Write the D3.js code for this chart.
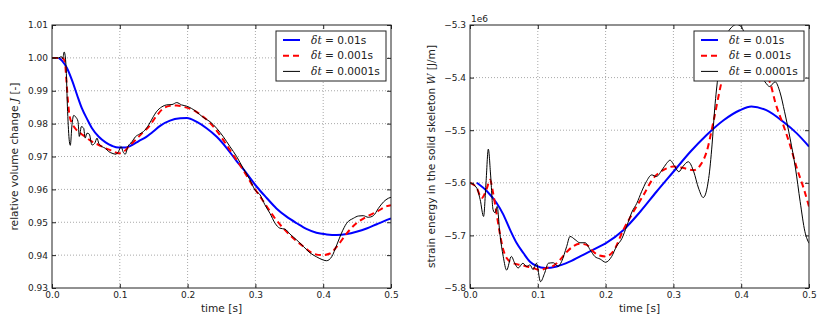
<!DOCTYPE html>
<html lang="en">
<head>
<meta charset="UTF-8">
<title>Volume change and strain energy</title>
<script src="https://d3js.org/d3.v7.min.js"></script>
<style>
  body { margin: 0; background: #fff; }
  text { font-family: "DejaVu Sans", sans-serif; fill: #222; }
  .tick text { font-size: 9px; fill: #222; }
  .tick line { stroke: #222; }
  .grid line { stroke: #a8a8a8; stroke-dasharray: 1,2; }
  .math { font-family: "DejaVu Serif", serif; font-style: italic; }
</style>
</head>
<body>
<svg id="chart" width="822" height="323"></svg>
<script>
// tick values
const timeTicks = [0, 0.1, 0.2, 0.3, 0.4, 0.5];
const volumeTicks = [0.93, 0.94, 0.95, 0.96, 0.97, 0.98, 0.99, 1.00, 1.01];
const energyTicks = [-5.8, -5.7, -5.6, -5.5, -5.4, -5.3];
const stepLabels = ["0.01s", "0.001s", "0.0001s"];

// relative volume change J, [time, value]
const volumeCoarse = [[0.01,1.0],[0.015,0.9991],[0.022,0.9969],[0.03,0.9929],[0.037,0.9887],[0.044,0.9847],[0.052,0.9813],[0.059,0.9786],[0.069,0.976],[0.079,0.9743],[0.089,0.9732],[0.098,0.9727],[0.108,0.9727],[0.118,0.9735],[0.128,0.9747],[0.138,0.9758],[0.148,0.9774],[0.16,0.9794],[0.174,0.9809],[0.189,0.9816],[0.199,0.9817],[0.213,0.9806],[0.228,0.9786],[0.243,0.976],[0.258,0.9725],[0.272,0.9687],[0.287,0.9649],[0.302,0.9608],[0.317,0.9573],[0.331,0.9542],[0.346,0.9517],[0.361,0.9497],[0.376,0.9479],[0.39,0.9468],[0.405,0.9463],[0.42,0.9461],[0.435,0.9464],[0.449,0.9471],[0.464,0.9481],[0.479,0.9494],[0.494,0.9507],[0.5,0.9512]];
const volumeMedium = [[0,1.0],[0.015,1.0],[0.019,0.9989],[0.021,0.9938],[0.0236,0.9867],[0.026,0.9822],[0.0295,0.9801],[0.034,0.9786],[0.042,0.9771],[0.049,0.976],[0.059,0.9745],[0.069,0.9735],[0.079,0.9725],[0.089,0.9717],[0.098,0.971],[0.106,0.9715],[0.113,0.973],[0.123,0.975],[0.133,0.9771],[0.143,0.9791],[0.153,0.982],[0.164,0.9846],[0.174,0.9854],[0.184,0.9855],[0.194,0.9851],[0.2085,0.9841],[0.223,0.9821],[0.238,0.9791],[0.2527,0.975],[0.2675,0.9704],[0.282,0.9659],[0.297,0.9608],[0.312,0.9563],[0.327,0.9517],[0.341,0.9482],[0.356,0.9451],[0.371,0.9426],[0.385,0.9405],[0.398,0.94],[0.41,0.9405],[0.422,0.9431],[0.435,0.9467],[0.449,0.9497],[0.464,0.9517],[0.479,0.9532],[0.494,0.9549],[0.5,0.9552]];
const volumeFine = [[0,1.0],[0.01,1.0],[0.0138,1.0004],[0.0157,0.9997],[0.018,1.0018],[0.0206,0.9979],[0.023,0.9837],[0.0256,0.9746],[0.027,0.9734],[0.0295,0.9797],[0.032,0.9825],[0.0354,0.9819],[0.0383,0.9807],[0.0403,0.9761],[0.0433,0.9791],[0.0467,0.9786],[0.049,0.9756],[0.0516,0.9771],[0.055,0.9768],[0.059,0.9735],[0.063,0.974],[0.0664,0.9756],[0.069,0.974],[0.0737,0.973],[0.0787,0.9725],[0.0836,0.9715],[0.0885,0.971],[0.0944,0.9707],[0.098,0.9715],[0.102,0.973],[0.1047,0.9715],[0.108,0.9707],[0.112,0.973],[0.118,0.9745],[0.123,0.976],[0.129,0.9768],[0.135,0.9776],[0.1426,0.9796],[0.1494,0.9821],[0.154,0.9836],[0.162,0.9851],[0.169,0.9857],[0.177,0.9858],[0.184,0.9864],[0.191,0.9857],[0.1987,0.9853],[0.206,0.9846],[0.213,0.9836],[0.223,0.9819],[0.233,0.9806],[0.2428,0.9786],[0.2527,0.976],[0.2625,0.973],[0.2723,0.97],[0.282,0.9664],[0.292,0.9629],[0.2994,0.9598],[0.307,0.9583],[0.314,0.9553],[0.3215,0.9527],[0.329,0.9497],[0.336,0.9482],[0.3437,0.9479],[0.351,0.9464],[0.361,0.9446],[0.371,0.9426],[0.3805,0.9407],[0.39,0.9395],[0.4002,0.9385],[0.405,0.9383],[0.4125,0.9395],[0.42,0.9431],[0.427,0.9467],[0.4346,0.9497],[0.4445,0.9512],[0.452,0.9519],[0.459,0.952],[0.4665,0.9515],[0.474,0.952],[0.4813,0.9542],[0.489,0.9562],[0.4961,0.9573],[0.5,0.9576]];

// strain energy W in units of 1e6 J/m, [time, value]
const energyCoarse = [[0.01,-5.6],[0.025,-5.616],[0.039,-5.638],[0.049,-5.66],[0.059,-5.689],[0.069,-5.715],[0.079,-5.734],[0.0885,-5.75],[0.098,-5.758],[0.111,-5.762],[0.128,-5.759],[0.147,-5.75],[0.167,-5.737],[0.185,-5.725],[0.2,-5.715],[0.226,-5.69],[0.251,-5.655],[0.275,-5.617],[0.3,-5.579],[0.325,-5.541],[0.349,-5.509],[0.374,-5.481],[0.398,-5.462],[0.415,-5.455],[0.437,-5.462],[0.462,-5.484],[0.482,-5.506],[0.5,-5.531]];
const energyMedium = [[0,-5.6],[0.01,-5.61],[0.017,-5.629],[0.025,-5.61],[0.0295,-5.594],[0.034,-5.619],[0.039,-5.657],[0.044,-5.696],[0.049,-5.727],[0.054,-5.743],[0.064,-5.753],[0.074,-5.756],[0.0836,-5.759],[0.093,-5.762],[0.103,-5.766],[0.113,-5.762],[0.123,-5.758],[0.133,-5.746],[0.143,-5.731],[0.152,-5.721],[0.162,-5.716],[0.172,-5.718],[0.182,-5.731],[0.19,-5.738],[0.2,-5.74],[0.211,-5.731],[0.226,-5.69],[0.241,-5.655],[0.256,-5.623],[0.27,-5.592],[0.285,-5.576],[0.3,-5.569],[0.315,-5.572],[0.33,-5.576],[0.34,-5.566],[0.349,-5.541],[0.359,-5.484],[0.369,-5.42],[0.378,-5.37],[0.39,-5.34],[0.405,-5.335],[0.42,-5.35],[0.435,-5.39],[0.443,-5.411],[0.45,-5.446],[0.462,-5.49],[0.472,-5.528],[0.482,-5.572],[0.492,-5.61],[0.5,-5.645]];
const energyFine = [[0,-5.6],[0.01,-5.61],[0.015,-5.632],[0.02,-5.664],[0.0236,-5.6],[0.027,-5.536],[0.0305,-5.587],[0.034,-5.651],[0.037,-5.657],[0.04,-5.645],[0.044,-5.696],[0.049,-5.74],[0.054,-5.766],[0.061,-5.74],[0.066,-5.753],[0.071,-5.762],[0.078,-5.753],[0.0836,-5.759],[0.0885,-5.756],[0.093,-5.765],[0.098,-5.753],[0.104,-5.788],[0.11,-5.772],[0.1155,-5.753],[0.123,-5.752],[0.13,-5.759],[0.135,-5.75],[0.1426,-5.721],[0.1475,-5.702],[0.155,-5.708],[0.162,-5.714],[0.17,-5.714],[0.177,-5.727],[0.184,-5.74],[0.192,-5.745],[0.2,-5.751],[0.209,-5.74],[0.216,-5.721],[0.224,-5.706],[0.231,-5.683],[0.239,-5.655],[0.246,-5.639],[0.253,-5.617],[0.26,-5.598],[0.268,-5.585],[0.275,-5.588],[0.283,-5.576],[0.29,-5.563],[0.295,-5.557],[0.302,-5.569],[0.308,-5.579],[0.314,-5.569],[0.322,-5.56],[0.33,-5.579],[0.337,-5.61],[0.344,-5.628],[0.352,-5.592],[0.357,-5.528],[0.361,-5.458],[0.366,-5.395],[0.372,-5.345],[0.38,-5.315],[0.387,-5.303],[0.393,-5.299],[0.4,-5.303],[0.407,-5.325],[0.418,-5.37],[0.428,-5.395],[0.435,-5.408],[0.442,-5.417],[0.45,-5.408],[0.457,-5.427],[0.464,-5.465],[0.472,-5.515],[0.48,-5.572],[0.487,-5.636],[0.494,-5.693],[0.5,-5.715]];

const lineStyles = [
    { color: "#0000ff", width: 2, dash: null },
    { color: "#ff0000", width: 2, dash: "6,4" },
    { color: "#000000", width: 1, dash: null }
];

const svg = d3.select("#chart");

function drawPanel(opts) {
    const g = svg.append("g").attr("transform", `translate(${opts.left},${opts.top})`);
    const w = opts.width, h = opts.height;

    const x = d3.scaleLinear().domain([0, 0.5]).range([0, w]);
    const y = d3.scaleLinear().domain(opts.yDomain).range([h, 0]);

    // dotted grid
    const grid = g.append("g").attr("class", "grid");
    grid.selectAll("line.gx").data(timeTicks.slice(1, -1)).enter().append("line")
        .attr("x1", d => x(d)).attr("x2", d => x(d)).attr("y1", 0).attr("y2", h);
    grid.selectAll("line.gy").data(opts.yTicks.slice(1, -1)).enter().append("line")
        .attr("x1", 0).attr("x2", w).attr("y1", d => y(d)).attr("y2", d => y(d));

    const clipId = "clip-" + opts.id;
    g.append("clipPath").attr("id", clipId)
        .append("rect").attr("width", w).attr("height", h);

    const line = d3.line()
        .x(d => x(d[0]))
        .y(d => y(d[1]))
        .curve(d3.curveMonotoneX);

    const lines = g.append("g").attr("clip-path", `url(#${clipId})`);
    opts.series.forEach((s, i) => {
        const st = lineStyles[i];
        lines.append("path")
            .datum(s)
            .attr("fill", "none")
            .attr("stroke", st.color)
            .attr("stroke-width", st.width)
            .attr("stroke-dasharray", st.dash)
            .attr("stroke-linejoin", "round")
            .attr("d", line);
    });

    // axes, ticks pointing inwards on all four sides
    const axB = g.append("g").attr("transform", `translate(0,${h})`)
        .call(d3.axisBottom(x).tickValues(timeTicks).tickFormat(d3.format(".1f"))
            .tickSizeInner(-4).tickSizeOuter(0).tickPadding(4));
    const axT = g.append("g")
        .call(d3.axisTop(x).tickValues(timeTicks).tickFormat("")
            .tickSizeInner(-4).tickSizeOuter(0));
    const axL = g.append("g")
        .call(d3.axisLeft(y).tickValues(opts.yTicks).tickFormat(d3.format(opts.yFormat))
            .tickSizeInner(-4).tickSizeOuter(0).tickPadding(4));
    const axR = g.append("g").attr("transform", `translate(${w},0)`)
        .call(d3.axisRight(y).tickValues(opts.yTicks).tickFormat("")
            .tickSizeInner(-4).tickSizeOuter(0));
    [axB, axT, axL, axR].forEach(a => a.select(".domain").remove());

    g.append("rect")
        .attr("width", w).attr("height", h)
        .attr("fill", "none").attr("stroke", "#222").attr("stroke-width", 1);

    // axis labels
    g.append("text")
        .attr("x", w / 2).attr("y", h + 24)
        .attr("text-anchor", "middle")
        .attr("font-size", 10.6)
        .text("time [s]");

    const yl = g.append("text")
        .attr("transform", `translate(${opts.yLabelX},${h / 2}) rotate(-90)`)
        .attr("text-anchor", "middle")
        .attr("font-size", 10.6);
    yl.append("tspan").text(opts.yLabel[0]);
    yl.append("tspan").attr("class", "math").text(opts.yLabel[1]);
    yl.append("tspan").text(opts.yLabel[2]);

    if (opts.offsetText) {
        g.append("text").attr("x", 1).attr("y", -3)
            .attr("font-size", 9).text(opts.offsetText);
    }

    // legend
    const lg = g.append("g").attr("transform", `translate(${w - 115},6)`);
    lg.append("rect")
        .attr("width", 110).attr("height", 50)
        .attr("fill", "#fff").attr("stroke", "#222").attr("stroke-width", 1);
    stepLabels.forEach((lab, i) => {
        const st = lineStyles[i];
        const ry = 9 + i * 15.7;
        lg.append("line")
            .attr("x1", 7).attr("x2", 24).attr("y1", ry).attr("y2", ry)
            .attr("stroke", st.color).attr("stroke-width", st.width)
            .attr("stroke-dasharray", st.dash);
        const t = lg.append("text").attr("x", 35).attr("y", ry).attr("dy", "0.35em")
            .attr("font-size", 10.6);
        t.append("tspan").attr("class", "math").text("δt");
        t.append("tspan").text(" = " + lab);
    });
}

drawPanel({
    id: "vol", left: 52, top: 25, width: 339, height: 263,
    yDomain: [0.93, 1.01], yTicks: volumeTicks, yFormat: ".2f",
    yLabel: ["relative volume change ", "J", " [-]"], yLabelX: -34,
    series: [volumeCoarse, volumeMedium, volumeFine]
});

drawPanel({
    id: "energy", left: 470, top: 25, width: 339, height: 263,
    yDomain: [-5.8, -5.3], yTicks: energyTicks, yFormat: ".1f",
    yLabel: ["strain energy in the solid skeleton ", "W", " [J/m]"], yLabelX: -35,
    offsetText: "1e6",
    series: [energyCoarse, energyMedium, energyFine]
});
</script>
</body>
</html>
